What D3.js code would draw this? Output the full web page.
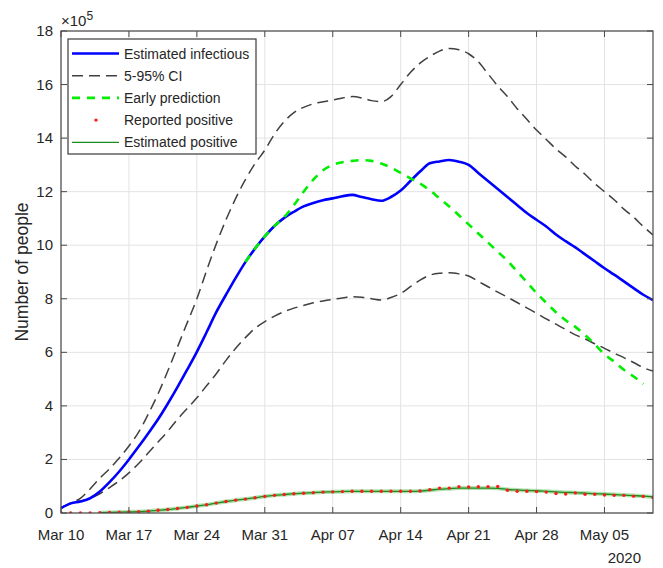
<!DOCTYPE html>
<html>
<head>
<meta charset="utf-8">
<script src="https://cdn.jsdelivr.net/npm/d3@7"></script>
<style>
  body { margin: 0; background: #fff; }
  text { font-family: "Liberation Sans", Arial, sans-serif; fill: #262626; }
</style>
</head>
<body>
<div id="chart-area"></div>
<script>
// daily values, x10^5 people, starting Mar 10 2020
var startDate = new Date(2020, 2, 10);
var endDate = new Date(2020, 4, 10);

var infectious = [0.18, 0.36, 0.43, 0.55, 0.8, 1.15, 1.55, 2.0, 2.48, 2.98,
  3.5, 4.08, 4.7, 5.35, 6.02, 6.75, 7.5, 8.15, 8.78, 9.37,
  9.88, 10.33, 10.72, 11.02, 11.25, 11.45, 11.58, 11.68, 11.75, 11.83,
  11.88, 11.8, 11.72, 11.66, 11.8, 12.04, 12.4, 12.75, 13.06, 13.13,
  13.18, 13.12, 13.0, 12.7, 12.4, 12.1, 11.8, 11.5, 11.2, 10.95,
  10.7, 10.4, 10.15, 9.92, 9.66, 9.4, 9.14, 8.9, 8.65, 8.4,
  8.15, 7.95];

var ciUpper = [0.2, 0.38, 0.55, 0.9, 1.3, 1.65, 2.05, 2.5, 3.02, 3.7,
  4.45, 5.3, 6.2, 7.1, 8.0, 9.05, 10.05, 10.95, 11.75, 12.45,
  13.05, 13.55, 14.15, 14.62, 14.95, 15.15, 15.28, 15.36, 15.42, 15.5,
  15.55, 15.5, 15.4, 15.36, 15.55, 16.0, 16.45, 16.8, 17.05, 17.25,
  17.35, 17.3, 17.15, 16.85, 16.4, 15.95, 15.55, 15.1, 14.7, 14.3,
  13.95, 13.6, 13.3, 12.95, 12.65, 12.3, 12.0, 11.7, 11.35, 11.05,
  10.7, 10.38];

var ciLower = [0.2, 0.35, 0.45, 0.55, 0.72, 0.95, 1.2, 1.5, 1.85, 2.25,
  2.65, 3.05, 3.5, 3.9, 4.3, 4.75, 5.2, 5.7, 6.15, 6.55,
  6.9, 7.15, 7.35, 7.52, 7.65, 7.75, 7.85, 7.92, 7.98, 8.03,
  8.08, 8.06, 8.0, 7.95, 8.05, 8.2, 8.45, 8.7, 8.88, 8.95,
  8.97, 8.93, 8.85, 8.65, 8.45, 8.25, 8.06, 7.86, 7.66, 7.46,
  7.25, 7.05, 6.85, 6.65, 6.5, 6.32, 6.15, 5.97, 5.8, 5.62,
  5.43, 5.3];

// early prediction starts on day 19 (Mar 29) and stops on day 60
var earlyStart = 19;
var earlyPrediction = [9.37, 9.88, 10.33, 10.72, 11.05, 11.5, 12.0, 12.45, 12.8, 13.0,
  13.1, 13.15, 13.18, 13.15, 13.05, 12.9, 12.7, 12.5, 12.3, 12.05,
  11.75, 11.45, 11.12, 10.78, 10.44, 10.1, 9.76, 9.42, 9.02, 8.62,
  8.22, 7.85, 7.5, 7.2, 6.95, 6.65, 6.3, 5.93, 5.65, 5.35,
  5.1, 4.82];

var reported = [0, 0, 0, 0, 0.01, 0.02, 0.03, 0.04, 0.05, 0.07,
  0.1, 0.13, 0.17, 0.21, 0.26, 0.31, 0.37, 0.43, 0.48, 0.52,
  0.57, 0.62, 0.66, 0.69, 0.72, 0.74, 0.76, 0.78, 0.79, 0.8,
  0.81, 0.81, 0.81, 0.81, 0.81, 0.81, 0.81, 0.82, 0.87, 0.93,
  0.93, 0.98, 0.97, 0.98, 0.98, 0.99, 0.85, 0.81, 0.81, 0.8,
  0.78, 0.73, 0.71, 0.75, 0.7, 0.7, 0.67, 0.66, 0.66, 0.63,
  0.62, 0.58];

// estimated positive starts on day 4
var posStart = 4;
var estPositive = [0.01, 0.02, 0.03, 0.04, 0.05, 0.07,
  0.1, 0.13, 0.17, 0.21, 0.26, 0.31, 0.37, 0.43, 0.48, 0.52,
  0.57, 0.62, 0.66, 0.69, 0.72, 0.74, 0.76, 0.78, 0.79, 0.8,
  0.81, 0.81, 0.81, 0.81, 0.81, 0.81, 0.81, 0.82, 0.85, 0.89,
  0.91, 0.93, 0.93, 0.93, 0.93, 0.92, 0.88, 0.86, 0.84, 0.83,
  0.81, 0.79, 0.77, 0.76, 0.74, 0.72, 0.71, 0.69, 0.67, 0.65,
  0.63, 0.6];

var yTicks = [0, 2, 4, 6, 8, 10, 12, 14, 16, 18];

var legendLabels = ["Estimated infectious", "5-95% CI", "Early prediction", "Reported positive", "Estimated positive"];

var width = 663, height = 568;
var margin = { top: 31, right: 10, bottom: 55, left: 61 };

var svg = d3.select("#chart-area")
  .append("svg")
  .attr("width", width)
  .attr("height", height);

var x = d3.scaleTime()
  .domain([startDate, endDate])
  .range([margin.left, width - margin.right]);

var y = d3.scaleLinear()
  .domain([0, 18])
  .range([height - margin.bottom, margin.top]);

var day = function(i) { return d3.timeDay.offset(startDate, i); };
var xTicks = d3.timeTuesday.range(startDate, d3.timeDay.offset(endDate, 1));

// grid
var grid = svg.append("g");
grid.selectAll(".gx")
  .data(xTicks)
  .enter().append("line")
  .attr("x1", function(d) { return x(d); })
  .attr("x2", function(d) { return x(d); })
  .attr("y1", y(0)).attr("y2", y(18))
  .attr("stroke", "#e3e3e3");
grid.selectAll(".gy")
  .data(yTicks)
  .enter().append("line")
  .attr("x1", x.range()[0]).attr("x2", x.range()[1])
  .attr("y1", function(d) { return y(d); })
  .attr("y2", function(d) { return y(d); })
  .attr("stroke", "#e3e3e3");

svg.append("clipPath").attr("id", "clip")
  .append("rect")
  .attr("x", x.range()[0]).attr("y", y(18))
  .attr("width", x.range()[1] - x.range()[0])
  .attr("height", y(0) - y(18));

var plot = svg.append("g").attr("clip-path", "url(#clip)");

var line = function(offset) {
  return d3.line()
    .x(function(d, i) { return x(day(i + offset)); })
    .y(function(d) { return y(d); })
    .curve(d3.curveMonotoneX);
};

plot.append("path").datum(ciUpper)
  .attr("d", line(0))
  .attr("fill", "none").attr("stroke", "#404040")
  .attr("stroke-width", 1.5).attr("stroke-dasharray", "11,6");
plot.append("path").datum(ciLower)
  .attr("d", line(0))
  .attr("fill", "none").attr("stroke", "#404040")
  .attr("stroke-width", 1.5).attr("stroke-dasharray", "11,6");

plot.append("path").datum(infectious)
  .attr("d", line(0))
  .attr("fill", "none").attr("stroke", "#0000ff")
  .attr("stroke-width", 2.6);

plot.append("path").datum(earlyPrediction)
  .attr("d", line(earlyStart))
  .attr("fill", "none").attr("stroke", "#00ee00")
  .attr("stroke-width", 2.6).attr("stroke-dasharray", "8,7");

plot.append("path").datum(estPositive)
  .attr("d", line(posStart))
  .attr("fill", "none").attr("stroke", "#7ccf7c")
  .attr("stroke-width", 4).attr("opacity", 0.6);
plot.append("path").datum(estPositive)
  .attr("d", line(posStart))
  .attr("fill", "none").attr("stroke", "#1f8a1f")
  .attr("stroke-width", 1.3);

plot.selectAll(".dot")
  .data(reported)
  .enter().append("circle")
  .attr("cx", function(d, i) { return x(day(i)); })
  .attr("cy", function(d) { return y(d); })
  .attr("r", 1.7)
  .attr("fill", "#ff1a1a");

// axes box
var x0 = x.range()[0], x1 = x.range()[1], y0 = y(0), y1 = y(18);
svg.append("rect")
  .attr("x", x0).attr("y", y1)
  .attr("width", x1 - x0).attr("height", y0 - y1)
  .attr("fill", "none").attr("stroke", "#4a4a4a").attr("stroke-width", 1.2);

var ax = svg.append("g");
ax.selectAll(".tb").data(xTicks).enter().append("line")
  .attr("x1", function(d) { return x(d); }).attr("x2", function(d) { return x(d); })
  .attr("y1", y0).attr("y2", y0 - 6).attr("stroke", "#4a4a4a");
ax.selectAll(".tt").data(xTicks).enter().append("line")
  .attr("x1", function(d) { return x(d); }).attr("x2", function(d) { return x(d); })
  .attr("y1", y1).attr("y2", y1 + 6).attr("stroke", "#4a4a4a");
ax.selectAll(".tl").data(yTicks).enter().append("line")
  .attr("x1", x0).attr("x2", x0 + 6)
  .attr("y1", function(d) { return y(d); }).attr("y2", function(d) { return y(d); })
  .attr("stroke", "#4a4a4a");
ax.selectAll(".tr").data(yTicks).enter().append("line")
  .attr("x1", x1).attr("x2", x1 - 6)
  .attr("y1", function(d) { return y(d); }).attr("y2", function(d) { return y(d); })
  .attr("stroke", "#4a4a4a");

var fmt = d3.timeFormat("%b %d");
ax.selectAll(".xl").data(xTicks).enter().append("text")
  .attr("x", function(d) { return x(d); })
  .attr("y", y0 + 27)
  .attr("text-anchor", "middle")
  .style("font-size", "15px")
  .text(function(d) { return fmt(d); });

ax.append("text")
  .attr("x", x1 - 12).attr("y", y0 + 50)
  .attr("text-anchor", "end")
  .style("font-size", "15px")
  .text("2020");

ax.selectAll(".yl").data(yTicks).enter().append("text")
  .attr("x", x0 - 8)
  .attr("y", function(d) { return y(d) + 5; })
  .attr("text-anchor", "end")
  .style("font-size", "15px")
  .text(function(d) { return d; });

var expo = ax.append("text")
  .attr("x", x0).attr("y", y1 - 5)
  .style("font-size", "15px");
expo.append("tspan").text("\u00d710");
expo.append("tspan").attr("dy", -6).style("font-size", "12px").text("5");

svg.append("text")
  .attr("transform", "translate(28," + ((y0 + y1) / 2) + ") rotate(-90)")
  .attr("text-anchor", "middle")
  .style("font-size", "17.5px")
  .text("Number of people");

// legend
var lg = svg.append("g").attr("transform", "translate(68,39)");
lg.append("rect")
  .attr("width", 188).attr("height", 115)
  .attr("fill", "#fff").attr("stroke", "#3a3a3a").attr("stroke-width", 1.2);

var rows = lg.selectAll(".row").data(legendLabels).enter().append("g")
  .attr("transform", function(d, i) { return "translate(0," + (14.5 + i * 22.2) + ")"; });
rows.append("text")
  .attr("x", 56).attr("y", 5)
  .style("font-size", "14px")
  .text(function(d) { return d; });

d3.select(rows.nodes()[0]).append("line").attr("x1", 4).attr("x2", 51)
  .attr("stroke", "#0000ff").attr("stroke-width", 2.6);
d3.select(rows.nodes()[1]).append("line").attr("x1", 4).attr("x2", 51)
  .attr("stroke", "#404040").attr("stroke-width", 1.5).attr("stroke-dasharray", "11,6");
d3.select(rows.nodes()[2]).append("line").attr("x1", 4).attr("x2", 51)
  .attr("stroke", "#00ee00").attr("stroke-width", 2.6).attr("stroke-dasharray", "8,7");
d3.select(rows.nodes()[3]).append("circle").attr("cx", 28).attr("cy", 0).attr("r", 1.7)
  .attr("fill", "#ff1a1a");
d3.select(rows.nodes()[4]).append("line").attr("x1", 4).attr("x2", 51)
  .attr("stroke", "#1f8a1f").attr("stroke-width", 1.3);
</script>
</body>
</html>
